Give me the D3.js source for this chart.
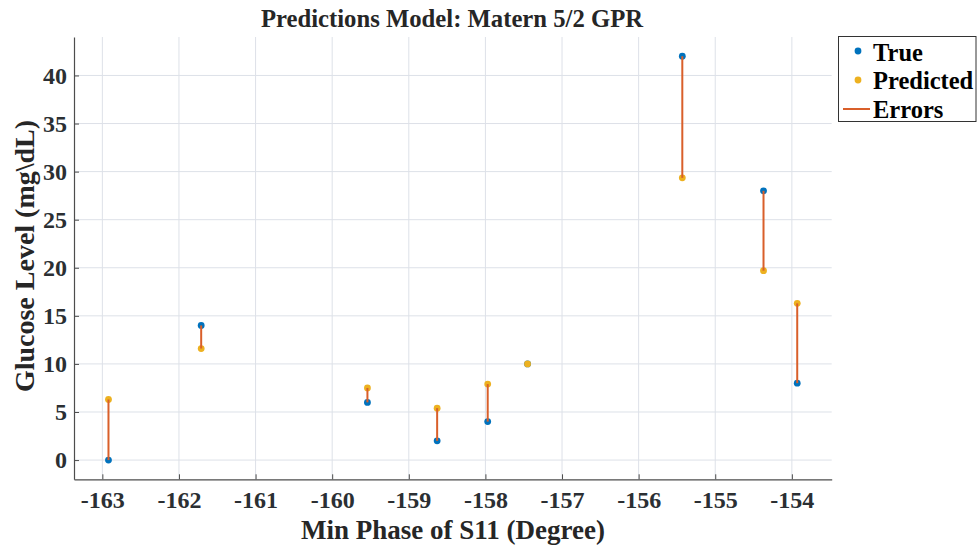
<!DOCTYPE html>
<html><head><meta charset="utf-8">
<script src="https://cdn.jsdelivr.net/npm/d3@7"></script>
<style>body{margin:0;background:#fff}svg{display:block}</style>
</head><body>
<svg id="c" width="977" height="546"></svg>
<script>
const xPhase = [-162.92, -161.71, -159.54, -158.63, -157.97, -157.45, -155.43, -154.37, -153.93];
const trueVals = [0, 14, 6, 2, 4, 10, 42, 28, 8];
const predVals = [6.3, 11.6, 7.5, 5.4, 7.9, 10.0, 29.35, 19.7, 16.3];
const xTicks = [-163, -162, -161, -160, -159, -158, -157, -156, -155, -154];
const yTicks = [0, 5, 10, 15, 20, 25, 30, 35, 40];
const legendLabels = ["True", "Predicted", "Errors"];

const colTrue = "#0072BD", colPred = "#EDB120", colErr = "#D95F2A";
const font = "'Liberation Serif','Times New Roman',serif";
const svg = d3.select("#c");
const L = 74, R = 831.7, T = 37, B = 479.3;
const x = d3.scaleLinear().domain([-163.37, -153.48]).range([L, R]);
const y = d3.scaleLinear().domain([-2, 44]).range([B, T]);

// grid
svg.append("g").selectAll("line").data(xTicks).join("line")
  .attr("x1", d => x(d)).attr("x2", d => x(d)).attr("y1", T).attr("y2", B)
  .attr("stroke", "#dde1e8").attr("stroke-width", 1);
svg.append("g").selectAll("line").data(yTicks).join("line")
  .attr("x1", L).attr("x2", R).attr("y1", d => y(d)).attr("y2", d => y(d))
  .attr("stroke", "#dde1e8").attr("stroke-width", 1);

// axes
const fmt = d => String(d);
const xa = svg.append("g").attr("transform", `translate(0,${B})`)
  .call(d3.axisBottom(x).tickValues(xTicks).tickSizeInner(-5).tickSizeOuter(0).tickPadding(12).tickFormat(fmt));
const ya = svg.append("g").attr("transform", `translate(${L},0)`)
  .call(d3.axisLeft(y).tickValues(yTicks).tickSizeInner(-5).tickSizeOuter(0).tickPadding(7).tickFormat(fmt));
[xa, ya].forEach(a => {
  a.select(".domain").attr("stroke", "#4d4d4d").attr("stroke-width", 1.2);
  a.selectAll(".tick line").attr("stroke", "#4d4d4d");
  a.selectAll("text").attr("fill", "#2b2f33").style("font-family", font)
    .style("font-weight", "bold").style("font-size", "24px");
});
xa.selectAll("text").attr("dy", "0.71em");

// markers, then error lines
svg.append("g").selectAll("circle").data(xPhase).join("circle")
  .attr("cx", d => x(d)).attr("cy", (d, i) => y(trueVals[i])).attr("r", 3.4).attr("fill", colTrue);
svg.append("g").selectAll("circle").data(xPhase).join("circle")
  .attr("cx", d => x(d)).attr("cy", (d, i) => y(predVals[i])).attr("r", 3.4).attr("fill", colPred);
svg.append("g").selectAll("line").data(xPhase).join("line")
  .attr("x1", d => x(d)).attr("x2", d => x(d))
  .attr("y1", (d, i) => y(trueVals[i])).attr("y2", (d, i) => y(predVals[i]))
  .attr("stroke", colErr).attr("stroke-width", 2);

// titles
svg.append("text").attr("x", 452).attr("y", 27).attr("text-anchor", "middle")
  .style("font-family", font).style("font-weight", "bold").style("font-size", "24.7px").attr("fill", "#262626")
  .text("Predictions Model: Matern 5/2 GPR");
svg.append("text").attr("x", 453).attr("y", 539).attr("text-anchor", "middle")
  .style("font-family", font).style("font-weight", "bold").style("font-size", "27px").attr("fill", "#262626")
  .text("Min Phase of S11 (Degree)");
svg.append("text").attr("transform", "translate(34,256) rotate(-90)").attr("text-anchor", "middle")
  .style("font-family", font).style("font-weight", "bold").style("font-size", "28px").attr("fill", "#262626")
  .text("Glucose Level (mg\\dL)");

// legend
const lg = svg.append("g");
lg.append("rect").attr("x", 838.5).attr("y", 36.5).attr("width", 137.5).attr("height", 85)
  .attr("fill", "#fff").attr("stroke", "#333").attr("stroke-width", 1);
const ly = [52, 80, 109];
lg.append("circle").attr("cx", 858).attr("cy", ly[0] - 1).attr("r", 3.4).attr("fill", colTrue);
lg.append("circle").attr("cx", 858).attr("cy", ly[1]).attr("r", 3.4).attr("fill", colPred);
lg.append("line").attr("x1", 843).attr("x2", 870).attr("y1", ly[2]).attr("y2", ly[2]).attr("stroke", colErr).attr("stroke-width", 2);
lg.selectAll("text").data(legendLabels).join("text")
  .attr("x", 873).attr("y", (d, i) => ly[i]).attr("dy", "0.35em")
  .style("font-family", font).style("font-weight", "bold").style("font-size", "24.5px").attr("fill", "#000")
  .text(d => d);
</script>
</body></html>
